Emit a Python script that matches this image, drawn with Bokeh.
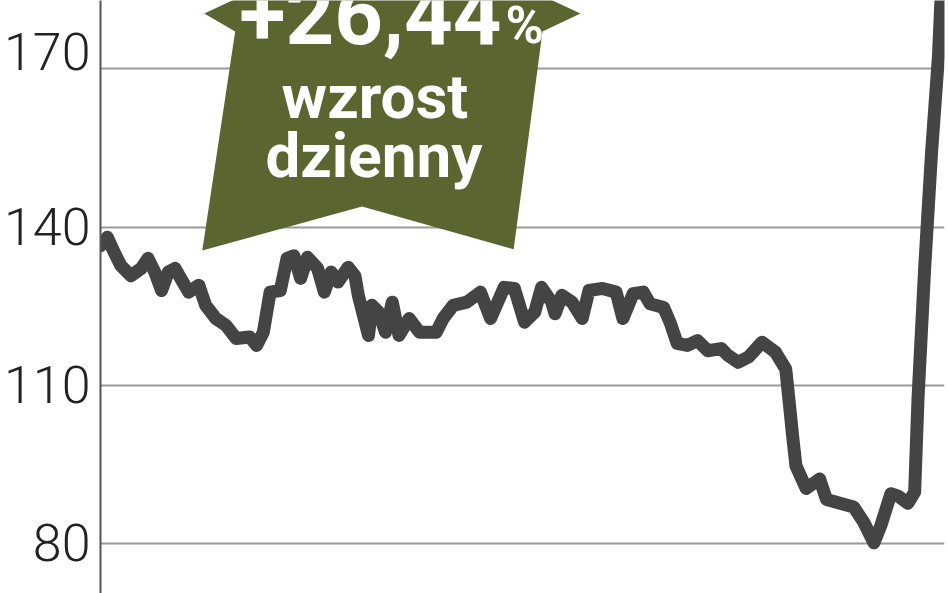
import numpy as np
from bokeh.plotting import figure
from bokeh.models import Range1d, Label, FixedTicker
from bokeh.embed import file_html
from bokeh.resources import INLINE

# share price, trading-day index vs. close
day = [0, 2, 4, 6, 9, 12, 14, 16, 18, 20, 22, 24, 26, 29, 31, 34, 37, 40, 44, 46,
       48, 50, 53, 55, 57, 59, 61, 64, 66, 68, 70, 73, 75, 76, 79, 80, 82, 84, 86, 88,
       91, 94, 99, 101, 104, 108, 112, 115, 119, 122, 125, 128, 130, 133, 134, 136, 139, 142, 144, 148,
       152, 154, 157, 160, 162, 166, 168, 170, 173, 176, 179, 183, 185, 188, 191, 195, 199, 202, 203, 204,
       205, 208, 212, 214, 218, 222, 225, 228, 230, 233, 235, 238, 240, 241, 243, 245, 247, 248]
price = [136.5, 138.1, 135.3, 132.7, 130.8, 132.2, 134.1, 131.5, 128.0, 131.5, 132.2, 129.9, 127.7, 129.0, 125.2, 122.7, 121.4, 118.9, 119.2, 117.6,
         120.1, 127.7, 128.0, 134.1, 134.6, 130.3, 134.3, 132.2, 127.7, 131.5, 129.6, 132.4, 130.8, 127.1, 119.5, 125.2, 123.9, 120.1, 125.8, 119.5,
         122.7, 120.1, 120.1, 122.7, 125.2, 125.8, 127.7, 122.7, 128.6, 128.4, 122.0, 123.9, 128.6, 125.8, 123.6, 127.1, 125.8, 122.7, 128.0, 128.4,
         127.7, 122.7, 127.4, 127.7, 125.5, 124.8, 121.8, 118.0, 117.6, 118.5, 116.6, 117.0, 115.7, 114.4, 115.4, 118.2, 116.3, 113.1, 107.0, 100.6,
         94.8, 90.5, 92.3, 88.4, 87.7, 87.0, 84.1, 80.2, 83.4, 89.5, 89.1, 87.7, 89.8, 107.7, 132.8, 154.3, 172.2, 186.7]

y_ticks = [80, 110, 140, 170]

change_text = "+26,44"
change_lines = ["wzrost", "dzienny"]

GREEN = "#5a6530"
LINE = "#444444"

p = figure(width=948, height=593, output_backend="svg", toolbar_location=None,
           x_range=Range1d(0, 248.8), y_range=Range1d(70.60, 182.95),
           min_border_left=98, min_border_right=4, min_border_top=0, min_border_bottom=0)
p.outline_line_color = None
p.background_fill_color = "white"
p.border_fill_color = "white"

p.xaxis.visible = False
p.xgrid.grid_line_color = None

p.yaxis.ticker = FixedTicker(ticks=y_ticks)
# top label sits a little above its gridline
p.yaxis.major_label_overrides = {170: "170\n "}
p.yaxis.major_label_text_line_height = 0.55
p.yaxis.major_label_text_font = "Roboto Light"
p.yaxis.major_label_text_font_size = "52px"
p.yaxis.major_label_text_color = "#222222"
p.yaxis.major_label_standoff = 10
p.yaxis.major_tick_out = 0
p.yaxis.major_tick_in = 0
p.yaxis.major_tick_line_color = None
p.yaxis.minor_tick_line_color = None
p.yaxis.axis_line_color = "#555555"
p.yaxis.axis_line_width = 2
p.ygrid.grid_line_color = "#9a9a9a"
p.ygrid.grid_line_width = 2

# banner arrow
bx = [85.9, 141.5, 130.3, 121.8, 77.1, 30.0, 39.7, 30.6]
by = [197.0, 180.5, 177.1, 135.8, 143.9, 135.6, 177.1, 180.5]
p.patch(bx, by, fill_color=GREEN, line_color=None)

p.add_layout(Label(x=118.2, y=180.44, text=change_text, text_align="right", text_baseline="middle",
                   text_font="Roboto", text_font_style="bold", text_font_size="85px", text_color="white"))
p.add_layout(Label(x=119.4, y=178.25, text="%", text_align="left", text_baseline="middle",
                   text_font="Roboto", text_font_style="bold", text_font_size="52px", text_color="white"))
p.add_layout(Label(x=80.9, y=164.71, text=change_lines[0], text_align="center", text_baseline="middle",
                   text_font="Roboto", text_font_style="bold", text_font_size="62px", text_color="white"))
p.add_layout(Label(x=80.6, y=153.53, text=change_lines[1], text_align="center", text_baseline="middle",
                   text_font="Roboto", text_font_style="bold", text_font_size="62px", text_color="white"))

p.line(day, price, line_color=LINE, line_width=13, line_join="round", line_cap="round")

open("out.html", "w").write(file_html(p, INLINE))
